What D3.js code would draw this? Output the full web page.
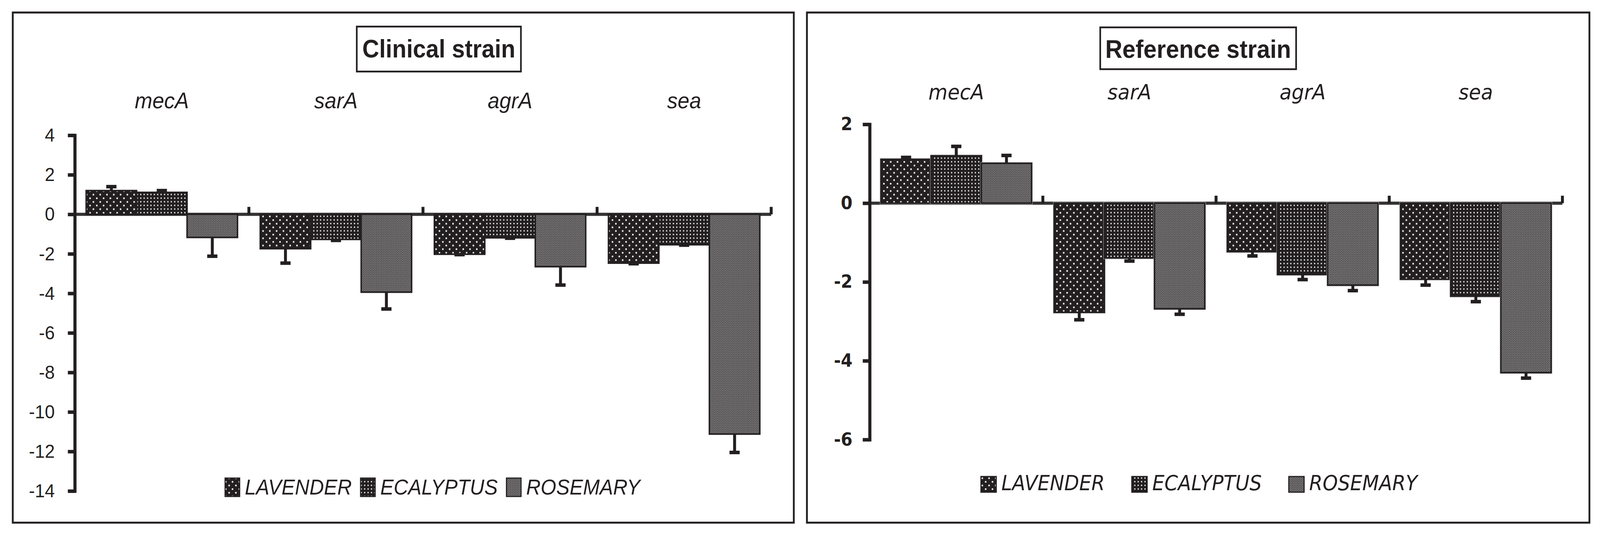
<!DOCTYPE html>
<html>
<head>
<meta charset="utf-8">
<script src="https://cdn.jsdelivr.net/npm/d3@7"></script>
<style>
  html, body { margin: 0; padding: 0; background: #fff; overflow: hidden; }
  svg { display: block; width: 100vw; height: 100vh; }
</style>
</head>
<body>
<div id="chart"></div>
<script>
// genes along the x axis and the three oils (series)
var genes = ["mecA", "sarA", "agrA", "sea"];
var oils = ["LAVENDER", "ECALYPTUS", "ROSEMARY"];

// clinical strain
var clinicalLavender  = [1.2, -1.74, -2.02, -2.47];
var clinicalEcalyptus = [1.11, -1.27, -1.19, -1.54];
var clinicalRosemary  = [-1.17, -3.94, -2.65, -11.12];
var clinicalLavenderErr  = [0.2, 0.73, 0.02, 0.03];
var clinicalEcalyptusErr = [0.09, 0.05, 0.02, 0.02];
var clinicalRosemaryErr  = [0.95, 0.85, 0.93, 0.93];

// reference strain
var referenceLavender  = [1.11, -2.77, -1.23, -1.93];
var referenceEcalyptus = [1.2, -1.39, -1.81, -2.36];
var referenceRosemary  = [1.01, -2.68, -2.08, -4.3];
var referenceLavenderErr  = [0.05, 0.19, 0.11, 0.15];
var referenceEcalyptusErr = [0.24, 0.08, 0.13, 0.14];
var referenceRosemaryErr  = [0.2, 0.14, 0.14, 0.14];

var clinicalTicks = [4, 2, 0, -2, -4, -6, -8, -10, -12, -14];
var referenceTicks = [2, 0, -2, -4, -6];

var ink = "#231f20";
var width = 4386, height = 1366;

// drawn in a 4386x1366 frame, stretched to whatever the window really is
var svg = d3.select("#chart").append("svg")
  .attr("viewBox", "0 0 " + width + " " + height)
  .attr("preserveAspectRatio", "none");

svg.append("rect").attr("width", width).attr("height", height).attr("fill", "#fff");

// fill patterns: dark bars with white dots
var patternSpecs = {
  LAVENDER:  {w: 18.6, h: 18.6, d: 4,   pts: [[3, 3], [12.3, 12.3]]},
  ECALYPTUS: {w: 9.3,  h: 9.3,  d: 3.2, pts: [[3, 3]]},
  ROSEMARY:  {w: 4.65, h: 4.65, d: 1.9, pts: [[0.6, 0.6], [2.93, 2.93]]}
};
var defs = svg.append("defs");
oils.forEach(function(oil) {
  var s = patternSpecs[oil];
  var p = defs.append("pattern")
    .attr("id", "pat-" + oil)
    .attr("patternUnits", "userSpaceOnUse")
    .attr("width", s.w)
    .attr("height", s.h);
  p.append("rect").attr("width", s.w).attr("height", s.h).attr("fill", ink);
  s.pts.forEach(function(pt) {
    p.append("rect").attr("x", pt[0]).attr("y", pt[1])
      .attr("width", s.d).attr("height", s.d).attr("fill", "#fff");
  });
});

function buildRows(vals, errs) {
  var rows = [];
  genes.forEach(function(gene, i) {
    oils.forEach(function(oil, j) {
      rows.push({gene: gene, oil: oil, value: vals[j][i], err: errs[j][i]});
    });
  });
  return rows;
}

function drawPanel(cfg) {
  var g = svg.append("g");

  // panel frame
  g.append("rect")
    .attr("x", cfg.box[0]).attr("y", cfg.box[1])
    .attr("width", cfg.box[2] - cfg.box[0]).attr("height", cfg.box[3] - cfg.box[1])
    .attr("fill", "none").attr("stroke", ink).attr("stroke-width", 5);

  // title in its own box
  g.append("rect")
    .attr("x", cfg.titleBox[0]).attr("y", cfg.titleBox[1])
    .attr("width", cfg.titleBox[2] - cfg.titleBox[0]).attr("height", cfg.titleBox[3] - cfg.titleBox[1])
    .attr("fill", "none").attr("stroke", ink).attr("stroke-width", 4.5);
  g.append("text")
    .attr("x", (cfg.titleBox[0] + cfg.titleBox[2]) / 2)
    .attr("y", cfg.titleBaseline)
    .attr("text-anchor", "middle")
    .attr("font-family", "'Liberation Sans', Arial, sans-serif")
    .attr("font-weight", "bold")
    .attr("font-size", cfg.titleSize)
    .attr("fill", ink)
    .text(cfg.title);

  var y = d3.scaleLinear().domain([cfg.ticks[0], cfg.ticks[cfg.ticks.length - 1]]).range(cfg.yRange);
  var x0 = d3.scaleBand().domain(genes).range([cfg.axisX, cfg.endX]);
  var x1 = d3.scaleBand().domain(oils).range([0, x0.bandwidth()]).paddingOuter(0.225);

  // gene names above the plot
  g.selectAll(".gene")
    .data(genes)
    .enter().append("text")
      .attr("class", "gene")
      .attr("x", function(d) { return x0(d) + x0.bandwidth() / 2; })
      .attr("y", cfg.geneBaseline)
      .attr("text-anchor", "middle")
      .attr("font-family", cfg.textFont)
      .attr("font-style", "italic")
      .attr("font-size", cfg.geneSize)
      .attr("fill", ink)
      .text(function(d) { return d; });

  // zero line
  g.append("line")
    .attr("x1", cfg.axisX).attr("x2", cfg.endX)
    .attr("y1", y(0)).attr("y2", y(0))
    .attr("stroke", "#333").attr("stroke-width", 8);

  // category separators sticking up from the zero line
  var seps = genes.slice(1).map(function(d) { return x0(d); }).concat([cfg.endX]);
  g.selectAll(".sep")
    .data(seps)
    .enter().append("line")
      .attr("class", "sep")
      .attr("x1", function(d) { return d; }).attr("x2", function(d) { return d; })
      .attr("y1", y(0)).attr("y2", y(0) - 19)
      .attr("stroke", ink).attr("stroke-width", 8);

  var rows = buildRows(cfg.values, cfg.errors);

  var bars = g.selectAll(".bar")
    .data(rows)
    .enter().append("g")
      .attr("class", "bar");

  if (cfg.halo) {
    bars.append("rect")
      .attr("x", function(d) { return x0(d.gene) + x1(d.oil) - 3; })
      .attr("y", function(d) { return Math.min(y(d.value), y(0)) - 3; })
      .attr("width", x1.bandwidth() + 6)
      .attr("height", function(d) { return Math.abs(y(d.value) - y(0)) + 6; })
      .attr("fill", "#a9a9a9");
  }

  bars.append("rect")
    .attr("x", function(d) { return x0(d.gene) + x1(d.oil); })
    .attr("y", function(d) { return Math.min(y(d.value), y(0)); })
    .attr("width", x1.bandwidth())
    .attr("height", function(d) { return Math.abs(y(d.value) - y(0)); })
    .attr("fill", function(d) { return "url(#pat-" + d.oil + ")"; })
    .attr("stroke", ink)
    .attr("stroke-width", 4);

  // error bars (outward only)
  function errEnd(d) { return y(d.value + (d.value < 0 ? -d.err : d.err)); }
  function cx(d) { return x0(d.gene) + x1(d.oil) + x1.bandwidth() / 2; }

  bars.append("line")
    .attr("x1", cx).attr("x2", cx)
    .attr("y1", function(d) { return y(d.value); })
    .attr("y2", errEnd)
    .attr("stroke", ink).attr("stroke-width", 8);

  bars.append("rect")
    .attr("x", function(d) { return cx(d) - 14; })
    .attr("y", function(d) { return errEnd(d) - 4.5; })
    .attr("width", 28).attr("height", 9)
    .attr("fill", ink);

  // y axis
  var axis = d3.axisLeft(y)
    .tickValues(cfg.ticks)
    .tickSize(19)
    .tickSizeOuter(0)
    .tickPadding(cfg.tickPad)
    .tickFormat(function(d) { return String(d); });

  var ga = g.append("g")
    .attr("transform", "translate(" + cfg.axisX + ",0)")
    .call(axis);
  ga.attr("font-family", cfg.tickFont)
    .attr("font-size", cfg.tickSize)
    .attr("font-weight", cfg.tickWeight);
  ga.select(".domain").attr("stroke", ink).attr("stroke-width", 8.5).attr("stroke-linecap", "square");
  ga.selectAll(".tick line").attr("stroke", ink).attr("stroke-width", 9);
  ga.selectAll(".tick text").attr("fill", ink);

  // legend
  var lg = cfg.legend;
  var lx = lg.x;
  oils.forEach(function(oil) {
    g.append("rect")
      .attr("x", lx).attr("y", lg.y)
      .attr("width", lg.sw).attr("height", lg.sh)
      .attr("fill", "url(#pat-" + oil + ")")
      .attr("stroke", ink).attr("stroke-width", 3);
    var t = g.append("text")
      .attr("x", lx + lg.sw + lg.gapText)
      .attr("y", lg.baseline)
      .attr("font-family", cfg.textFont)
      .attr("font-style", "italic")
      .attr("font-size", lg.size)
      .attr("fill", ink)
      .text(oil);
    lx = lx + lg.sw + lg.gapText + t.node().getComputedTextLength() + lg.gapItem;
  });
}

drawPanel({
  box: [35, 32, 2176, 1337],
  titleBox: [978, 68, 1428, 183],
  title: "Clinical strain",
  titleBaseline: 147,
  titleSize: 64,
  axisX: 205,
  endX: 2114,
  yRange: [346, 1256],
  ticks: clinicalTicks,
  tickPad: 36,
  tickFont: "'Liberation Sans', Arial, sans-serif",
  tickSize: 49,
  tickWeight: "normal",
  textFont: "'Liberation Sans', Arial, sans-serif",
  geneSize: 58,
  geneBaseline: 277,
  values: [clinicalLavender, clinicalEcalyptus, clinicalRosemary],
  errors: [clinicalLavenderErr, clinicalEcalyptusErr, clinicalRosemaryErr],
  halo: false,
  legend: {x: 617, y: 1223, sw: 40, sh: 47, baseline: 1265, gapText: 14, gapItem: 24, size: 55}
});

drawPanel({
  box: [2212, 32, 4357, 1337],
  titleBox: [3016, 70, 3553, 177],
  title: "Reference strain",
  titleBaseline: 148,
  titleSize: 65,
  axisX: 2384,
  endX: 4283,
  yRange: [318, 1124.5],
  ticks: referenceTicks,
  tickPad: 28,
  tickFont: "'DejaVu Sans', Verdana, sans-serif",
  tickSize: 46,
  tickWeight: "bold",
  textFont: "'DejaVu Sans', Verdana, sans-serif",
  geneSize: 54,
  geneBaseline: 254,
  values: [referenceLavender, referenceEcalyptus, referenceRosemary],
  errors: [referenceLavenderErr, referenceEcalyptusErr, referenceRosemaryErr],
  halo: true,
  legend: {x: 2689, y: 1219, sw: 42, sh: 40, baseline: 1254, gapText: 14, gapItem: 74, size: 53}
});
</script>
</body>
</html>
